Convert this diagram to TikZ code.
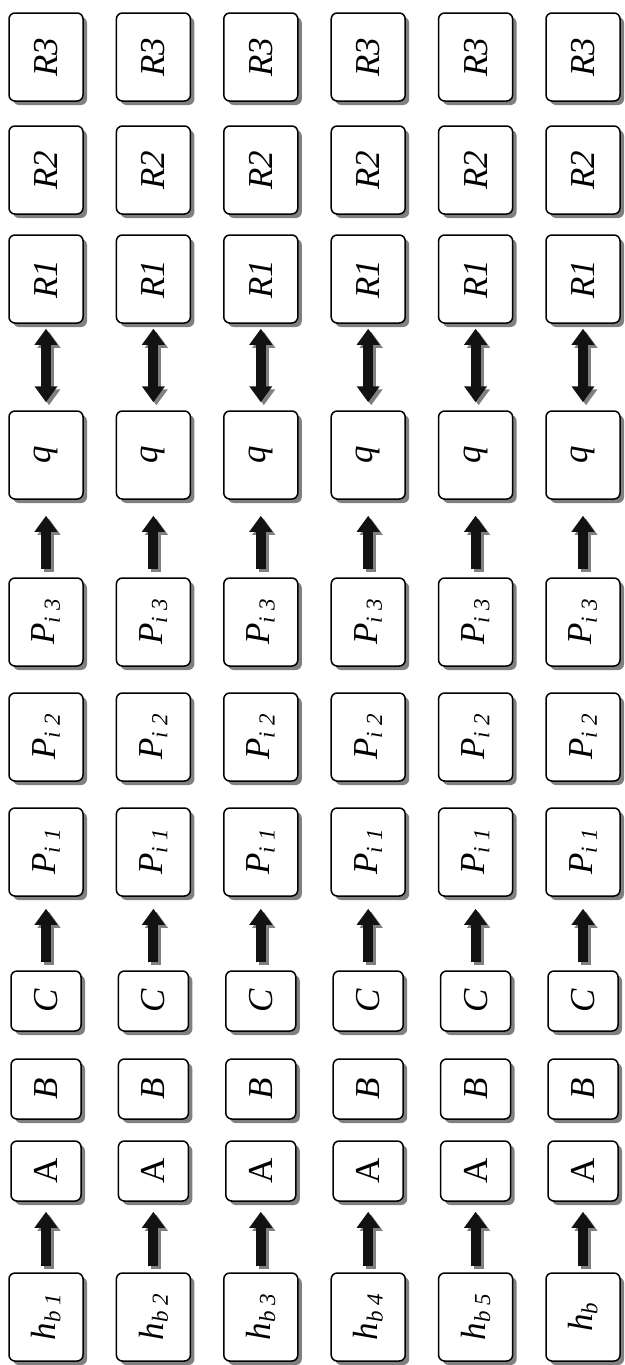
\documentclass[tikz,border=0pt]{standalone}
\usepackage{fontspec}
\setmainfont{Liberation Serif}
\newfontfamily\tnr{Liberation Serif}
\usepackage{tikz}
\usetikzlibrary{arrows.meta, shadows, positioning}

% lowered index of a label
\newcommand{\lowsub}[1]{\raisebox{-0.3ex}{\fontsize{23}{26}\selectfont #1}}

\begin{document}
\begin{tikzpicture}[x=1pt, y=-1pt,
    bigbox/.style   = {draw=black, fill=white, line width=1.5pt, rounded corners=6pt,
                       minimum width=74pt, minimum height=88pt, inner sep=0pt,
                       font=\tnr\fontsize{35}{38}\selectfont\itshape,
                       drop shadow={shadow xshift=4pt, shadow yshift=-4pt,
                                    fill=black!50, opacity=1}},
    smallbox/.style = {bigbox, minimum width=70pt, minimum height=60pt},
    fat/.style 2 args  = {draw=black!93, line width=10pt, shorten <=#1, shorten >=#2,
                          -{Triangle[width=22pt,length=16pt]},
                          preaction={draw=black!50, line width=10pt,
                                     shorten <=#1, shorten >=#2,
                                     -{Triangle[width=22pt,length=16pt]},
                                     transform canvas={shift={(3pt,-3pt)}}}},
    dfat/.style 2 args = {draw=black!93, line width=10pt, shorten <=#1, shorten >=#2,
                          {Triangle[width=22pt,length=16pt]}-{Triangle[width=22pt,length=16pt]},
                          preaction={draw=black!50, line width=10pt,
                                     shorten <=#1, shorten >=#2,
                                     {Triangle[width=22pt,length=16pt]}-{Triangle[width=22pt,length=16pt]},
                                     transform canvas={shift={(3pt,-3pt)}}}}
  ]

  \useasboundingbox (0,0) rectangle (624,1365);

  % ----------------------------------------------------------------
  % One column per h_b, six columns, 107.4 apart
  % ----------------------------------------------------------------
  \foreach \col/\idx in {1/{b 1}, 2/{b 2}, 3/{b 3}, 4/{b 4}, 5/{b 5}, 6/{b}}{
    \pgfmathsetmacro{\xx}{46+107.4*(\col-1)}

    % boxes, bottom to top
    \node[bigbox]   (hb-\col) at (\xx,1317) {\rotatebox{90}{h\lowsub{\idx}}};
    \node[smallbox] (a-\col)  at (\xx,1171) {\rotatebox{90}{\upshape A}};
    \node[smallbox] (b-\col)  at (\xx,1089) {\rotatebox{90}{B}};
    \node[smallbox] (c-\col)  at (\xx,1001) {\rotatebox{90}{C}};
    \node[bigbox]   (p1-\col) at (\xx, 852) {\rotatebox{90}{P\lowsub{i 1}}};
    \node[bigbox]   (p2-\col) at (\xx, 737) {\rotatebox{90}{P\lowsub{i 2}}};
    \node[bigbox]   (p3-\col) at (\xx, 622) {\rotatebox{90}{P\lowsub{i 3}}};
    \node[bigbox]   (q-\col)  at (\xx, 455) {\rotatebox{90}{q}};
    \node[bigbox]   (r1-\col) at (\xx, 279) {\rotatebox{90}{R1}};
    \node[bigbox]   (r2-\col) at (\xx, 170) {\rotatebox{90}{R2}};
    \node[bigbox]   (r3-\col) at (\xx,  57) {\rotatebox{90}{R3}};

    % block arrows
    \draw[fat={6pt}{10pt}]  (hb-\col.north) -- (a-\col.south);
    \draw[fat={8pt}{12pt}]  (c-\col.north)  -- (p1-\col.south);
    \draw[fat={8pt}{16pt}]  (p3-\col.north) -- (q-\col.south);
    \draw[dfat={8pt}{5pt}]  (q-\col.north)  -- (r1-\col.south);
  }

\end{tikzpicture}
\end{document}
